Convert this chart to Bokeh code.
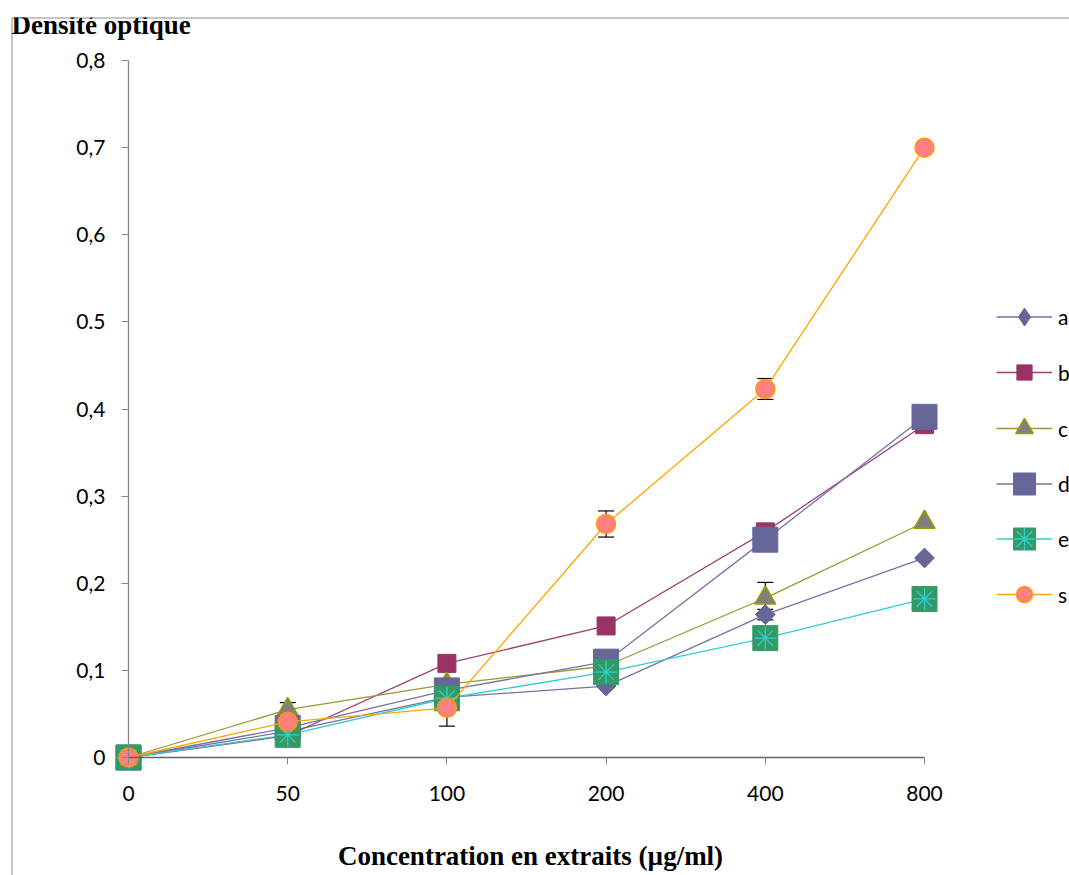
from bokeh.plotting import figure
from bokeh.models import (Range1d, FixedTicker, LinearAxis, Legend, LegendItem,
                          Whisker, TeeHead, ColumnDataSource, Span, Label)
from bokeh.embed import file_html
from bokeh.resources import INLINE

# ---------------- data ----------------
categories = ["0", "50", "100", "200", "400", "800"]
a = [0, 0.030, 0.069, 0.082, 0.164, 0.229]
b = [0, 0.025, 0.108, 0.151, 0.259, 0.382]
c = [0, 0.055, 0.084, 0.105, 0.183, 0.270]
d = [0, 0.034, 0.077, 0.110, 0.250, 0.391]
e = [0, 0.026, 0.068, 0.098, 0.137, 0.182]
s = [0, 0.041, 0.057, 0.268, 0.423, 0.700]
s_err = [0, 0, 0.021, 0.015, 0.012, 0]
c_err = [0, 0.008, 0, 0, 0.018, 0]
a_err = [0, 0, 0, 0, 0.006, 0]
y_ticks = [0, 0.1, 0.2, 0.3, 0.4, 0.5, 0.6, 0.7, 0.8]
y_tick_labels = ["0", "0,1", "0,2", "0,3", "0,4", "0.5", "0,6", "0,7", "0,8"]
series_names = ["a", "b", "c", "d", "e", "s"]

x = list(range(len(categories)))

# ---------------- layout ----------------
W, H = 1069, 875
left, top = 11, 17
px0, dx = 128, 159.2      # pixel of first category, px per category
py0, dy = 757, 871.25     # pixel of y=0, px per unit
x_start = (left - px0) / dx
x_end = (W - px0) / dx
y_end = (py0 - top) / dy
y_start = (py0 - H) / dy

p = figure(width=W, height=H, output_backend="svg", toolbar_location=None,
           x_range=Range1d(x_start, x_end), y_range=Range1d(y_start, y_end),
           x_axis_location=None, y_axis_location=None,
           min_border_left=left, min_border_top=top,
           min_border_right=0, min_border_bottom=0)
p.outline_line_color = None
p.background_fill_color = "white"
p.border_fill_color = "white"
p.grid.visible = False

LABEL_FONT = "Lato"

xaxis = LinearAxis(fixed_location=0, bounds=(0, len(categories) - 1),
                   ticker=FixedTicker(ticks=x),
                   major_label_overrides={i: lab for i, lab in zip(x, categories)})
xaxis.axis_line_color = "#666666"
xaxis.axis_line_width = 1.3
xaxis.major_tick_line_color = "#868686"
xaxis.major_tick_in = 0
xaxis.major_tick_out = 7
xaxis.minor_tick_line_color = None
xaxis.major_label_standoff = 21
xaxis.major_label_text_font = LABEL_FONT
xaxis.major_label_text_font_size = "21px"
xaxis.major_label_text_color = "black"
p.add_layout(xaxis, "below")

yaxis = LinearAxis(fixed_location=0, bounds=(y_ticks[0], y_ticks[-1]),
                   ticker=FixedTicker(ticks=y_ticks),
                   major_label_overrides=dict(zip(y_ticks, y_tick_labels)))
yaxis.axis_line_color = "#868686"
yaxis.axis_line_width = 1.3
yaxis.major_tick_line_color = "#868686"
yaxis.major_tick_in = 0
yaxis.major_tick_out = 7
yaxis.minor_tick_line_color = None
yaxis.major_label_standoff = 16
yaxis.major_label_text_font = LABEL_FONT
yaxis.major_label_text_font_size = "21px"
yaxis.major_label_text_color = "black"
p.add_layout(yaxis, "left")

# frame border lines (top & left)
p.add_layout(Span(location=y_end, dimension="width", line_color="#8c8c8c", line_width=2))
p.add_layout(Span(location=x_start, dimension="height", line_color="#8c8c8c", line_width=2))

# error bars
for vals, errs in ((s, s_err), (c, c_err), (a, a_err)):
    idx = [i for i in x if errs[i] > 0]
    src = ColumnDataSource(dict(x=[x[i] for i in idx],
                                up=[vals[i] + errs[i] for i in idx],
                                lo=[vals[i] - errs[i] for i in idx]))
    w = Whisker(base="x", upper="up", lower="lo", source=src, level="underlay",
                line_color="black", line_width=1.2,
                upper_head=TeeHead(size=16, line_color="black", line_width=1.2),
                lower_head=TeeHead(size=16, line_color="black", line_width=1.2))
    p.add_layout(w)

LW = 1.3
legend_renderers = []

# a
r1 = p.line(x, a, line_color="#7373A6", line_width=LW)
p.scatter(x, a, marker="square", angle=0.785398, size=14,
          fill_color="#666699", line_color="#666699")
r_leg = p.scatter(x, a, marker="diamond", size=18, fill_color="#666699",
                  line_color="#666699", visible=False)
legend_renderers.append(([r1, r_leg], 45))
# b
r1 = p.line(x, b, line_color="#9E3F6E", line_width=LW)
r2 = p.scatter(x, b, marker="square", size=18, fill_color="#993366", line_color="#993366")
legend_renderers.append(([r1, r2], 38))
# c
r1 = p.line(x, c, line_color="#999933", line_width=LW)
r2 = p.scatter(x, c, marker="triangle", size=21, fill_color="#808080",
               line_color="#999900", line_width=1.5)
legend_renderers.append(([r1, r2], 44))
# d
r1 = p.line(x, d, line_color="#7373A6", line_width=LW)
r2 = p.scatter(x, d, marker="square", size=25, fill_color="#666699", line_color="#666699")
legend_renderers.append(([r1, r2], 55))
# e
r1 = p.line(x, e, line_color="#33CCCC", line_width=LW)
r2 = p.scatter(x, e, marker="square", size=25, fill_color="#339966", line_color="#339966")
r3 = p.scatter(x, e, marker="asterisk", size=22, line_color="#33CCCC", line_width=1.3)
legend_renderers.append(([r1, r2, r3], 55))
# s
r1 = p.line(x, s, line_color="#FFA500", line_width=LW)
r2 = p.scatter(x, s, marker="circle", size=19, fill_color="#FF8080",
               line_color="#FF9900", line_width=1.5)
legend_renderers.append(([r1, r2], 40))

# legend: one box per entry so that each marker keeps its own size
row0, row_step = 317, 55.4
for k, (name, (rends, gh)) in enumerate(zip(series_names, legend_renderers)):
    cy = row0 + k * row_step
    lg = Legend(items=[LegendItem(label=name, renderers=rends)],
                location=(985, int(round(H - cy - gh / 2))),
                glyph_width=56, glyph_height=gh, label_height=gh,
                padding=0, margin=0, border_line_color=None,
                background_fill_alpha=0, inactive_fill_alpha=0, label_standoff=6,
                label_text_font=LABEL_FONT, label_text_font_size="21px",
                label_text_color="black")
    p.add_layout(lg, "center")

# titles
p.add_layout(Label(x=0, y=H - 32 + 8, x_units="screen", y_units="screen",
                   text="Densité optique", text_font="Liberation Serif",
                   text_font_style="bold", text_font_size="27px",
                   text_baseline="alphabetic", text_color="black"))
p.add_layout(Label(x=530 - left, y=H - 863 + 8, x_units="screen", y_units="screen",
                   text="Concentration en extraits (µg/ml)", text_font="Liberation Serif",
                   text_font_style="bold", text_font_size="27px", text_align="center",
                   text_baseline="alphabetic", text_color="black"))

open("out.html", "w").write(file_html(p, INLINE))
